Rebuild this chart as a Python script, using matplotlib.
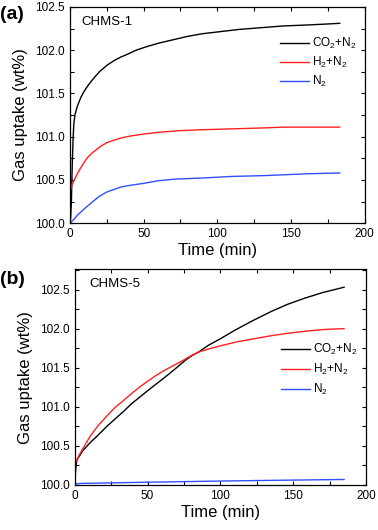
import matplotlib
matplotlib.use("Agg")
import matplotlib.pyplot as plt
from matplotlib.ticker import MultipleLocator, FormatStrFormatter

plt.rcParams['font.family'] = ['Liberation Sans', 'DejaVu Sans']
plt.rcParams['mathtext.fontset'] = 'custom'
plt.rcParams['mathtext.rm'] = 'Liberation Sans'

labels = ['CO$_2$+N$_2$', 'H$_2$+N$_2$', 'N$_2$']
colors = ['black', '#ff2020', '#3050ff']

# Panel (a) CHMS-1
a_co2_t = [0, 0.45, 1.0, 1.6, 2.2, 2.7, 3.5, 5, 7.3, 9.5, 11.8, 14, 16.4, 20, 25.5, 30, 34.5, 40, 45, 52, 60, 70, 80, 90, 100, 115, 130, 145, 160, 172, 183]
a_co2_y = [100.0, 100.05, 100.25, 100.70, 101.0, 101.16, 101.26, 101.35, 101.45, 101.52, 101.58, 101.63, 101.68, 101.75, 101.83, 101.88, 101.92, 101.96, 102.0, 102.04, 102.08, 102.12, 102.16, 102.19, 102.21, 102.24, 102.26, 102.28, 102.29, 102.30, 102.31]
a_h2_t = [0, 0.3, 1.6, 3, 5, 7, 9.5, 12, 15, 18, 21, 25, 30, 36, 42, 50, 60, 75, 90, 110, 130, 145, 160, 172, 183]
a_h2_y = [100.0, 100.38, 100.45, 100.50, 100.57, 100.63, 100.70, 100.76, 100.81, 100.85, 100.89, 100.93, 100.96, 100.99, 101.01, 101.03, 101.05, 101.07, 101.08, 101.09, 101.10, 101.11, 101.11, 101.11, 101.11]
a_n2_t = [0, 2.5, 5, 7.5, 10, 13.5, 17, 20, 25, 30, 35, 42, 50, 60, 72, 88, 110, 133, 160, 183]
a_n2_y = [100.0, 100.04, 100.09, 100.13, 100.17, 100.22, 100.27, 100.31, 100.36, 100.39, 100.42, 100.44, 100.46, 100.49, 100.51, 100.52, 100.54, 100.55, 100.57, 100.58]

# Panel (b) CHMS-5
b_co2_t = [0, 0.3, 0.6, 1.2, 2, 3.5, 5, 8, 11, 15, 22, 28, 33.4, 39, 45, 51, 56.5, 62, 68, 73, 77, 81, 85, 92, 100, 110, 122, 135, 146, 158, 170, 185]
b_co2_y = [100.0, 100.1, 100.2, 100.30, 100.34, 100.38, 100.43, 100.49, 100.55, 100.62, 100.75, 100.85, 100.94, 101.04, 101.13, 101.22, 101.30, 101.38, 101.47, 101.55, 101.61, 101.66, 101.70, 101.79, 101.87, 101.98, 102.10, 102.22, 102.31, 102.39, 102.46, 102.53]
b_h2_t = [0, 0.2, 3.5, 10.4, 16, 21.9, 27.5, 33.4, 39, 45, 51, 56.5, 62, 68, 74, 79.5, 85, 92, 100, 111, 123, 135, 146, 160, 172, 185]
b_h2_y = [100.0, 100.28, 100.40, 100.62, 100.76, 100.88, 100.99, 101.08, 101.17, 101.26, 101.34, 101.41, 101.47, 101.53, 101.59, 101.65, 101.70, 101.74, 101.78, 101.83, 101.87, 101.91, 101.94, 101.97, 101.99, 102.0]
b_n2_t = [0, 1, 5, 50, 100, 140, 185]
b_n2_y = [100.0, 100.015, 100.02, 100.035, 100.05, 100.06, 100.07]

fig = plt.figure(figsize=(3.78, 5.30), dpi=100)
ax1 = fig.add_axes([0.185, 0.579, 0.78, 0.408])
ax2 = fig.add_axes([0.198, 0.085, 0.770, 0.407])


def style(ax, ymax):
    ax.set_xlim(0, 200)
    ax.set_ylim(100.0, ymax)
    ax.xaxis.set_major_locator(MultipleLocator(50))
    ax.xaxis.set_minor_locator(MultipleLocator(25))
    ax.yaxis.set_major_locator(MultipleLocator(0.5))
    ax.yaxis.set_minor_locator(MultipleLocator(0.25))
    ax.yaxis.set_major_formatter(FormatStrFormatter('%.1f'))
    ax.tick_params(which='both', direction='in', top=True, right=True, labelsize=8.5, width=0.8)
    ax.tick_params(which='major', length=3)
    ax.tick_params(which='minor', length=3)
    ax.set_xlabel('Time (min)', fontsize=12, labelpad=2)
    ax.set_ylabel('Gas uptake (wt%)', fontsize=12, labelpad=5)
    for s in ax.spines.values():
        s.set_linewidth(0.9)


for ax, series in [(ax1, [(a_co2_t, a_co2_y), (a_h2_t, a_h2_y), (a_n2_t, a_n2_y)]),
                   (ax2, [(b_co2_t, b_co2_y), (b_h2_t, b_h2_y), (b_n2_t, b_n2_y)])]:
    for (t, y), c, lab in zip(series, colors, labels):
        ax.plot(t, y, color=c, lw=1.0, label=lab)

style(ax1, 102.5)
ax1.text(0.04, 0.93, 'CHMS-1', transform=ax1.transAxes, fontsize=9.5, va='center')
ax1.legend(loc='upper right', bbox_to_anchor=(1.0, 0.905), frameon=False, fontsize=8.5,
           handlelength=2.4, handletextpad=0.3, labelspacing=0.35, borderaxespad=0.3)

style(ax2, 102.76)
ax2.text(0.05, 0.93, 'CHMS-5', transform=ax2.transAxes, fontsize=9.5, va='center')
ax2.legend(loc='upper right', bbox_to_anchor=(1.0, 0.70), frameon=False, fontsize=8.5,
           handlelength=2.4, handletextpad=0.3, labelspacing=0.4, borderaxespad=0.3)

fig.text(0.0, 0.972, '(a)', fontsize=14, fontweight='bold', va='center', ha='left')
fig.text(0.0, 0.472, '(b)', fontsize=14, fontweight='bold', va='center', ha='left')

fig.savefig('out.png', dpi=100)
